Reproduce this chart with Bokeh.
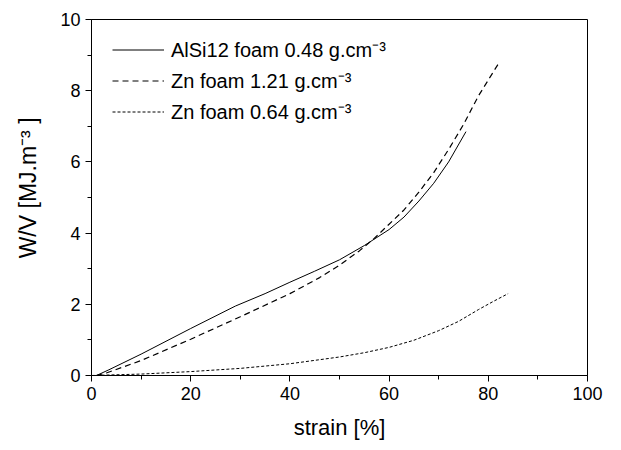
from bokeh.plotting import figure
from bokeh.models import Range1d, Legend, LegendItem
from bokeh.embed import file_html
from bokeh.resources import INLINE

# --- data ---
alsi_strain = [1, 3.5, 10, 20, 29, 35, 40, 45, 50, 55, 60, 63, 66, 69, 72, 75.5]
alsi_wv = [0, 0.16, 0.6, 1.32, 1.95, 2.3, 2.62, 2.93, 3.25, 3.65, 4.1, 4.45, 4.9, 5.4, 6.0, 6.85]

zn121_strain = [1, 3, 10, 20, 30, 40, 46, 50, 54, 57, 60, 63, 66, 69, 72, 75, 78, 82]
zn121_wv = [0, 0.07, 0.42, 1.02, 1.65, 2.3, 2.75, 3.1, 3.5, 3.85, 4.25, 4.65, 5.15, 5.7, 6.35, 7.05, 7.85, 8.75]

zn064_strain = [0, 10, 20, 30, 40, 50, 55, 60, 65, 70, 74, 78, 81, 84]
zn064_wv = [0, 0.04, 0.11, 0.2, 0.33, 0.52, 0.64, 0.79, 0.99, 1.26, 1.52, 1.85, 2.08, 2.3]

labels = ["AlSi12 foam 0.48 g.cm\u207b\u00b3",
          "Zn foam 1.21 g.cm\u207b\u00b3",
          "Zn foam 0.64 g.cm\u207b\u00b3"]
x_title = "strain [%]"
y_title = "\u00a0\u00a0\u00a0W/V [MJ.m\u207b\u00b3 ]"

FONT = "Liberation Sans"

p = figure(frame_width=496, frame_height=356,
           min_border_left=91, min_border_top=19, min_border_right=24, min_border_bottom=20,
           x_range=Range1d(0, 100), y_range=Range1d(0, 10),
           output_backend="svg", toolbar_location=None)

p.xgrid.visible = False
p.ygrid.visible = False
p.outline_line_color = "black"
p.outline_line_width = 1
p.outline_line_alpha = 1

r1 = p.line(alsi_strain, alsi_wv, line_color="black", line_width=1)
r2 = p.line(zn121_strain, zn121_wv, line_color="black", line_width=1.2, line_dash="6 4")
r3 = p.line(zn064_strain, zn064_wv, line_color="black", line_width=1, line_dash="3 2")

for ax in (p.xaxis[0], p.yaxis[0]):
    ax.axis_line_color = "black"
    ax.major_tick_line_color = "black"
    ax.minor_tick_line_color = "black"
    ax.major_tick_in = 0
    ax.major_tick_out = 6
    ax.minor_tick_in = 0
    ax.minor_tick_out = 4
    ax.major_label_text_font = FONT
    ax.major_label_text_font_size = "18px"
    ax.major_label_text_color = "black"
    ax.axis_label_text_font = FONT
    ax.axis_label_text_font_style = "normal"
    ax.axis_label_text_color = "black"

p.xaxis.axis_label_text_font_size = "22px"
p.yaxis.axis_label_text_font_size = "23px"
p.xaxis.ticker.desired_num_ticks = 5
p.xaxis[0].ticker.num_minor_ticks = 2
p.yaxis[0].ticker.num_minor_ticks = 2
p.xaxis.axis_label = x_title
p.yaxis.axis_label = y_title
p.xaxis.axis_label_standoff = 12
p.yaxis.axis_label_standoff = 16
p.xaxis.major_label_standoff = 5
p.yaxis.major_label_standoff = 5

legend = Legend(items=[LegendItem(label=labels[0], renderers=[r1]),
                       LegendItem(label=labels[1], renderers=[r2]),
                       LegendItem(label=labels[2], renderers=[r3])],
                location=(21, 250), margin=0, padding=0,
                glyph_width=52, glyph_height=25, label_height=25,
                label_standoff=7, spacing=4,
                label_text_font=FONT, label_text_font_size="20px",
                label_text_color="black",
                background_fill_alpha=0, border_line_alpha=0)
p.add_layout(legend)

open("out.html", "w").write(file_html(p, INLINE))
